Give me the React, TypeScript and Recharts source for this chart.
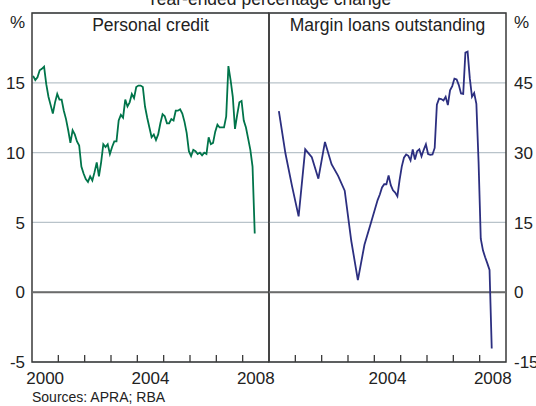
import React from "react";
import {
  LineChart,
  Line,
  XAxis,
  YAxis,
  CartesianGrid,
  ReferenceLine,
  ReferenceArea,
} from "recharts";

// Personal credit, monthly from Jan 2000 (year-ended % change)
const pcValues = [
  15.5, 15.2, 15.4, 15.9, 16.0, 16.15, 14.9, 14.0, 13.4, 12.8, 13.6, 14.2,
  13.8, 13.8, 13.0, 12.4, 11.6, 10.7, 11.6, 11.3, 10.8, 10.5, 9.0, 8.5,
  8.1, 7.9, 8.3, 8.0, 8.6, 9.3, 8.3, 9.3, 10.6, 10.4, 10.6, 9.9,
  10.4, 10.8, 10.8, 12.3, 12.7, 12.5, 13.8, 13.3, 13.6, 14.2, 13.9, 14.7,
  14.8, 14.8, 14.7, 13.3, 12.5, 11.8, 11.1, 11.3, 10.9, 11.3, 12.1, 12.75,
  12.6, 12.1, 12.1, 12.4, 12.3, 13.0, 13.0, 13.1, 12.8, 12.2, 11.4, 10.1,
  9.75, 10.2, 10.1, 9.9, 10.0, 9.8, 10.0, 9.9, 11.1, 10.6, 10.7, 11.5,
  12.0, 11.8, 11.8, 11.8, 12.6, 16.2, 15.2, 14.0, 11.7, 12.7, 13.6, 13.7,
  12.3, 11.8, 11.0, 10.2, 9.0, 4.2,
];

// Margin loans outstanding: quarterly to early 2004, monthly after
const mlMonths = [
  "2000-05", "2000-08", "2000-11", "2001-02", "2001-05", "2001-08", "2001-11",
  "2002-02", "2002-05", "2002-08", "2002-11", "2003-02", "2003-05", "2003-08",
  "2003-11", "2004-02", "2004-03", "2004-04", "2004-05", "2004-06", "2004-07",
  "2004-08", "2004-09", "2004-10", "2004-11", "2004-12", "2005-01", "2005-02",
  "2005-03", "2005-04", "2005-05", "2005-06", "2005-07", "2005-08", "2005-09",
  "2005-10", "2005-11", "2005-12", "2006-01", "2006-02", "2006-03", "2006-04",
  "2006-05", "2006-06", "2006-07", "2006-08", "2006-09", "2006-10", "2006-11",
  "2006-12", "2007-01", "2007-02", "2007-03", "2007-04", "2007-05", "2007-06",
  "2007-07", "2007-08", "2007-09", "2007-10", "2007-11", "2007-12", "2008-01",
  "2008-02", "2008-03", "2008-04", "2008-05", "2008-06",
];
const mlValues = [
  38.9, 29.8, 22.8, 16.3, 30.7, 29.0, 24.4,
  32.3, 27.5, 25.0, 21.8, 11.0, 2.6, 10.2,
  15.0, 19.8, 21.0, 22.5, 23.2, 23.2, 25.1,
  23.0, 21.9, 21.4, 20.6, 24.1, 27.0, 28.9,
  29.6, 29.3, 28.3, 30.7, 28.5, 30.3, 30.7,
  29.2, 30.6, 31.8, 29.7, 29.5, 29.6, 31.0,
  40.3, 41.6, 41.5, 41.2, 42.0, 40.2, 43.4,
  44.3, 45.9, 45.7, 44.5, 42.7, 42.6, 51.5,
  51.7, 46.0, 42.0, 42.8, 40.5, 28.0, 11.5,
  9.0, 7.5, 6.2, 4.8, -12.1,
];

const yearTicks = [2000, 2001, 2002, 2003, 2004, 2005, 2006, 2007, 2008, 2009];
const leftYearLabels = [2000, 2004, 2008];
const rightYearLabels = [2004, 2008];
const leftTicks = [-5, 0, 5, 10, 15, 20];
const rightTicks = [-15, 0, 15, 30, 45, 60];

const monthToYear = (ym: string) => {
  const [y, m] = ym.split("-").map(Number);
  return y + (m - 0.5) / 12;
};

const pcData = pcValues.map((v, i) => ({ t: 2000 + (i + 0.5) / 12, v }));
const mlData = mlMonths.map((m, i) => ({ t: monthToYear(m), v: mlValues[i] }));

// layout
const W = 536;
const H = 406;
const TOP = 13;
const BOTTOM = 362;
const LEFT = 32;
const MID = 269;
const RIGHT = 506;
const YEAR_PX = (MID - LEFT) / 9;

const FONT = "Arial, 'Liberation Sans', Helvetica, sans-serif";
const TEXT = "#222";
const FRAME = "#3a3a3a";
const GRID = "#b9c3ca";

const makeXTick = (labels: number[]) => (props: any) => {
  const { x, y, payload } = props;
  const v = payload.value as number;
  return (
    <g>
      {v > 2000 && v < 2009 && (
        <line x1={x} x2={x} y1={y} y2={y - 7} stroke={FRAME} strokeWidth={1.3} />
      )}
      {labels.includes(v) && (
        <text x={x + YEAR_PX / 2} y={y + 22} textAnchor="middle" fontSize={17} fill={TEXT} fontFamily={FONT}>
          {v}
        </text>
      )}
    </g>
  );
};

const makeYTick = (top: number, anchor: "start" | "end") => (props: any) => {
  const { x, y, payload } = props;
  const isTop = payload.value === top;
  return (
    <text x={x} y={isTop ? y + 9 : y} dy="0.36em" textAnchor={anchor} fontSize={17} fill={TEXT} fontFamily={FONT}>
      {isTop ? "%" : payload.value}
    </text>
  );
};

const Panel: React.FC<{
  data: { t: number; v: number }[];
  side: "left" | "right";
  color: string;
}> = ({ data, side, color }) => {
  const isLeft = side === "left";
  const domain: [number, number] = isLeft ? [-5, 20] : [-15, 60];
  const ticks = isLeft ? leftTicks : rightTicks;
  return (
    <div style={{ position: "absolute", left: 0, top: 0 }}>
      <LineChart
        width={W}
        height={H}
        data={data}
        margin={
          isLeft
            ? { top: TOP, bottom: 0, left: 0, right: W - MID }
            : { top: TOP, bottom: 0, left: MID, right: 0 }
        }
      >
        <CartesianGrid vertical={false} stroke={GRID} strokeWidth={1.3} />
        <XAxis
          dataKey="t"
          type="number"
          domain={[2000, 2009]}
          ticks={yearTicks}
          axisLine={false}
          tickLine={false}
          tickSize={0}
          tickMargin={0}
          height={H - BOTTOM}
          interval={0}
          tick={makeXTick(isLeft ? leftYearLabels : rightYearLabels)}
        />
        <YAxis
          orientation={isLeft ? "left" : "right"}
          width={isLeft ? LEFT : W - RIGHT}
          domain={domain}
          ticks={ticks}
          interval={0}
          axisLine={false}
          tickLine={false}
          tickSize={0}
          tickMargin={isLeft ? 7 : 8}
          tick={makeYTick(domain[1], isLeft ? "end" : "start")}
        />
        <ReferenceLine y={0} stroke="#6b6b6b" strokeWidth={2} />
        <ReferenceArea
          x1={2000}
          x2={2009}
          y1={domain[0]}
          y2={domain[1]}
          fill="none"
          stroke={FRAME}
          strokeWidth={1.5}
        />
        <Line
          dataKey="v"
          type="linear"
          stroke={color}
          strokeWidth={1.8}
          dot={false}
          isAnimationActive={false}
        />
      </LineChart>
    </div>
  );
};

const App: React.FC = () => (
  <div style={{ position: "absolute", left: 0, top: 0, width: W, height: H, background: "#fff", overflow: "hidden" }}>
    <Panel data={pcData} side="left" color="#00744a" />
    <Panel data={mlData} side="right" color="#2c2f80" />
    <svg width={W} height={H} style={{ position: "absolute", left: 0, top: 0, pointerEvents: "none" }}>
      <g fontFamily={FONT} fill={TEXT}>
        <text x={MID} y={5} textAnchor="middle" fontSize={17.5}>
          Year-ended percentage change
        </text>
        <text x={(LEFT + MID) / 2} y={31} textAnchor="middle" fontSize={17.5}>
          Personal credit
        </text>
        <text x={(MID + RIGHT) / 2} y={31} textAnchor="middle" fontSize={17.5}>
          Margin loans outstanding
        </text>
        <text x={LEFT} y={402} fontSize={14}>
          Sources: APRA; RBA
        </text>
      </g>
    </svg>
  </div>
);

export default App;
